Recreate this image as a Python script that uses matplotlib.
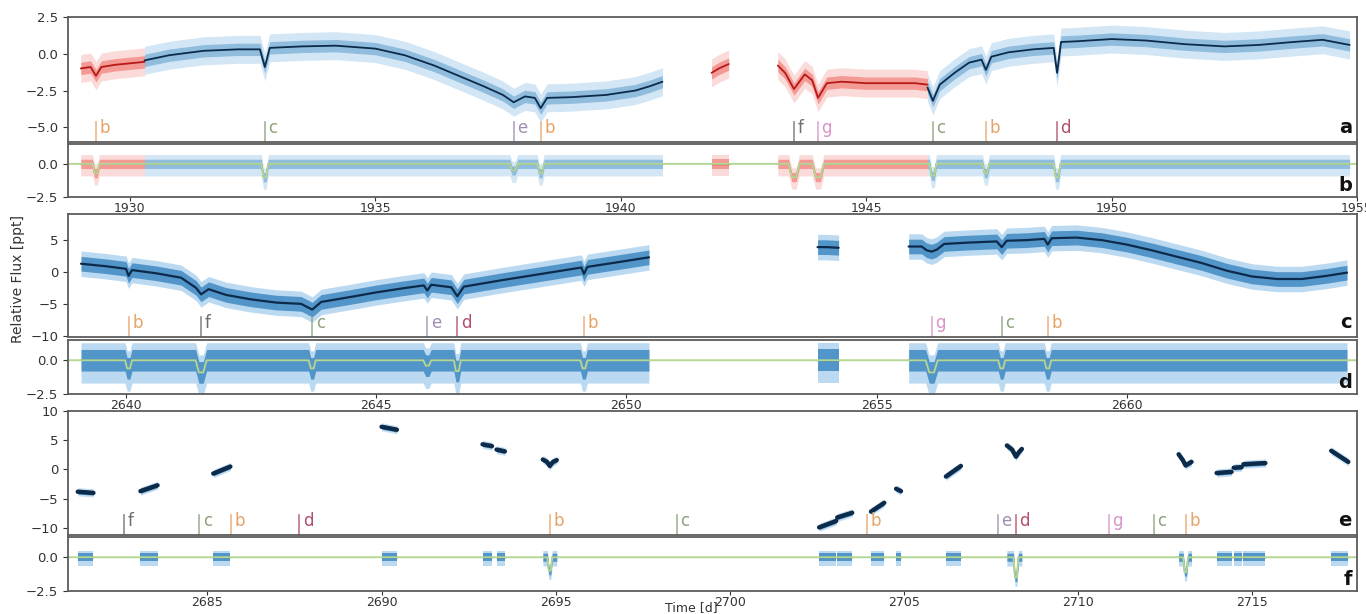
import matplotlib
matplotlib.use('Agg')
import matplotlib.pyplot as plt
import numpy as np

# ---- planets / transit markers ----
PLANETS = ['b', 'c', 'd', 'e', 'f', 'g']
PLANET_COLORS = ['#e6a469', '#8ba27c', '#b0506a', '#a08fb2', '#6f6f6f', '#d893c8']
PLANET_DUR = [0.14, 0.14, 0.14, 0.16, 0.22, 0.24]

# ---- sector 1 (panels a, b) ----
A_SEGS_T = [
    [1929.0, 1929.2, 1929.31, 1929.42, 1929.7, 1930.3],
    [1930.3, 1930.8, 1931.5, 1932.2, 1932.65, 1932.75, 1932.85, 1933.5, 1934.2,
     1935.0, 1935.6, 1936.2, 1936.7, 1937.2, 1937.6, 1937.82, 1938.05, 1938.25,
     1938.37, 1938.5, 1939.0, 1939.7, 1940.3, 1940.6, 1940.85],
    [1941.85, 1942.0, 1942.2],
    [1943.2, 1943.35, 1943.53, 1943.75, 1943.9, 1944.02, 1944.2, 1944.5, 1945.0,
     1945.5, 1946.0, 1946.25],
    [1946.25, 1946.36, 1946.5, 1946.8, 1947.1, 1947.35, 1947.44, 1947.55, 1947.9,
     1948.4, 1948.82, 1948.89, 1948.97, 1949.3, 1950.0, 1950.7, 1951.5, 1952.3,
     1953.0, 1953.7, 1954.3, 1954.85],
]
A_SEGS_F = [
    [-1.0, -0.9, -1.5, -0.9, -0.75, -0.55],
    [-0.45, -0.1, 0.2, 0.3, 0.3, -0.9, 0.4, 0.5, 0.55, 0.35, -0.1, -0.8, -1.5,
     -2.2, -2.8, -3.3, -2.9, -3.0, -3.7, -3.0, -2.95, -2.8, -2.5, -2.2, -1.9],
    [-1.3, -1.0, -0.7],
    [-0.8, -1.3, -2.4, -1.4, -1.8, -3.0, -2.0, -1.9, -2.0, -2.0, -2.0, -2.1],
    [-2.3, -3.2, -2.1, -1.3, -0.6, -0.4, -1.1, -0.2, 0.1, 0.3, 0.4, -1.3, 0.8,
     0.85, 1.0, 0.9, 0.65, 0.5, 0.6, 0.8, 0.95, 0.6],
]
A_SEGS_RED = [True, False, True, True, False]
AB_TR_T = [1929.31, 1932.75, 1937.82, 1938.37, 1943.53, 1944.02, 1946.36, 1947.44, 1948.89]
AB_TR_P = ['b', 'c', 'e', 'b', 'f', 'g', 'c', 'b', 'd']
AB_TR_DEPTH = [0.7, 1.0, 0.5, 0.7, 1.0, 1.0, 0.9, 0.7, 1.0]

# ---- sector 2 (panels c, d) ----
C_SEGS_T = [
    [2639.1, 2639.6, 2640.0, 2640.05, 2640.12, 2640.6, 2641.1, 2641.4, 2641.5,
     2641.65, 2642.0, 2642.5, 2643.0, 2643.5, 2643.72, 2643.9, 2644.5, 2645.0,
     2645.5, 2645.95, 2646.02, 2646.1, 2646.5, 2646.62, 2646.75, 2647.5, 2648.3,
     2649.1, 2649.15, 2649.22, 2649.8, 2650.45],
    [2653.82, 2654.0, 2654.24],
    [2655.64, 2655.9, 2656.0, 2656.1, 2656.2, 2656.35, 2656.8, 2657.4, 2657.5,
     2657.6, 2658.0, 2658.35, 2658.42, 2658.5, 2659.0, 2659.5, 2660.0, 2660.5,
     2661.0, 2661.5, 2662.0, 2662.5, 2663.0, 2663.5, 2664.0, 2664.4],
]
C_SEGS_F = [
    [1.3, 0.9, 0.5, -0.6, 0.3, -0.2, -0.9, -2.5, -3.5, -2.7, -3.6, -4.3, -4.8,
     -5.0, -5.9, -4.7, -3.9, -3.2, -2.6, -2.1, -2.9, -2.0, -2.4, -3.8, -2.3,
     -1.3, -0.3, 0.7, -0.3, 0.8, 1.5, 2.3],
    [3.9, 3.9, 3.8],
    [4.0, 4.0, 3.4, 3.2, 3.5, 4.4, 4.6, 4.8, 3.9, 4.9, 5.0, 5.2, 4.3, 5.3, 5.4,
     5.0, 4.3, 3.4, 2.4, 1.4, 0.2, -0.7, -1.1, -1.1, -0.6, -0.1],
]
CD_TR_T = [2640.05, 2641.5, 2643.72, 2646.02, 2646.62, 2649.15, 2656.1, 2657.5, 2658.42]
CD_TR_P = ['b', 'f', 'c', 'e', 'd', 'b', 'g', 'c', 'b']
CD_TR_DEPTH = [0.6, 0.9, 0.6, 0.4, 0.8, 0.6, 0.9, 0.6, 0.6]

# ---- sector 3 (panels e, f) ----
E_SEGS_T = [
    [2681.28, 2681.5, 2681.73], [2683.08, 2683.57], [2685.17, 2685.66],
    [2690.0, 2690.44], [2692.9, 2693.17], [2693.3, 2693.54],
    [2694.63, 2694.75, 2694.83, 2694.92, 2695.03], [2702.56, 2703.05],
    [2703.08, 2703.51], [2704.05, 2704.43], [2704.77, 2704.91],
    [2706.2, 2706.63], [2707.95, 2708.1, 2708.21, 2708.3, 2708.38],
    [2712.88, 2713.0, 2713.08, 2713.25], [2713.97, 2714.4], [2714.46, 2714.69],
    [2714.74, 2715.37], [2717.26, 2717.75],
]
E_SEGS_F = [
    [-3.8, -3.9, -4.0], [-3.7, -2.7], [-0.7, 0.5], [7.3, 6.8], [4.3, 4.0],
    [3.4, 3.1], [1.7, 1.3, 0.6, 1.3, 1.6], [-9.9, -8.8], [-8.2, -7.4],
    [-7.2, -5.7], [-3.3, -3.7], [-1.2, 0.6], [4.1, 3.4, 2.2, 3.0, 3.5],
    [2.6, 1.6, 0.7, 1.3], [-0.6, -0.4], [0.3, 0.4], [0.9, 1.1], [3.2, 1.3],
]
EF_TR_T = [2682.6, 2684.77, 2685.69, 2687.64, 2694.83, 2698.47, 2703.94,
           2707.69, 2708.21, 2710.87, 2712.16, 2713.08]
EF_TR_P = ['f', 'c', 'b', 'd', 'b', 'c', 'b', 'e', 'd', 'g', 'c', 'b']
EF_TR_DEPTH = [0, 0, 0, 0, 1.0, 0, 0, 0, 1.5, 0, 0, 1.1]

BLUE_LIGHT = '#8fc1e6'
BLUE_MID = '#2f7fbd'
BLUE_DARK = '#0c2a4a'
RED_LIGHT = '#f6a7a0'
RED_MID = '#e8392e'
RED_DARK = '#b81818'
MODEL_GREEN = '#b5d795'
SPINE = '#5c5c5c'
TEXT = '#333333'


def transit_model(times, planets, depths, lo, hi):
    # flat line with a trapezoid dip for every transit that has data
    pts = []
    for t, p, d in zip(times, planets, depths):
        if d == 0:
            continue
        w = PLANET_DUR[PLANETS.index(p)]
        pts += [(t - w / 2, 0.0), (t - w / 5, -d), (t + w / 5, -d), (t + w / 2, 0.0)]
    pts = [(lo, 0.0)] + sorted(pts) + [(hi, 0.0)]
    return np.array([p[0] for p in pts]), np.array([p[1] for p in pts])


def style_axes(ax, xlim, ylim, yticks, yfmt, show_x):
    ax.set_xlim(*xlim)
    ax.set_ylim(*ylim)
    ax.set_yticks(yticks)
    ax.set_yticklabels([yfmt.format(v).replace('-', '\u2212') for v in yticks])
    for s in ax.spines.values():
        s.set_color(SPINE)
        s.set_linewidth(1.3)
    ax.tick_params(labelsize=9.5, colors=TEXT, length=3.5, width=0.8)
    ax.tick_params(axis='x', length=3, pad=0.3, labelsize=9)
    if not show_x:
        ax.tick_params(axis='x', bottom=False, labelbottom=False)


def draw_flux(ax, segs_t, segs_f, reds, w_out, w_in, lw, a_out, a_in):
    for t, f, red in zip(segs_t, segs_f, reds):
        t = np.array(t)
        f = np.array(f)
        light, mid, dark = (RED_LIGHT, RED_MID, RED_DARK) if red else (BLUE_LIGHT, BLUE_MID, BLUE_DARK)
        ax.fill_between(t, f - w_out, f + w_out, color=light, alpha=a_out, lw=0)
        ax.fill_between(t, f - w_in, f + w_in, color=mid, alpha=a_in, lw=0)
        ax.plot(t, f, color=dark, lw=lw, solid_capstyle='round')


def draw_resid(ax, segs_t, reds, mx, my, w_out, w_in, a_out, a_in, xlim):
    for t, red in zip(segs_t, reds):
        t0, t1 = t[0], t[-1]
        grid = np.array(sorted(set([t0, t1] + [x for x in mx if t0 < x < t1])))
        r = np.interp(grid, mx, my)
        light, mid, dark = (RED_LIGHT, RED_MID, RED_DARK) if red else (BLUE_LIGHT, BLUE_MID, BLUE_DARK)
        ax.fill_between(grid, r - w_out * 1.3, r + w_out, color=light, alpha=a_out, lw=0)
        ax.fill_between(grid, r - w_in, r + w_in, color=mid, alpha=a_in, lw=0)
        ax.plot(grid, r, color=dark, lw=1.0, alpha=0.8)
    ax.plot(mx, my, color=MODEL_GREEN, lw=1.4)


def draw_markers(ax, times, planets):
    tr = ax.get_xaxis_transform()
    for t, p in zip(times, planets):
        c = PLANET_COLORS[PLANETS.index(p)]
        ax.plot([t, t], [0.0, 0.16], color=c, lw=1.2, transform=tr, alpha=0.8)
        ax.annotate(p, (t, 0.11), xycoords=tr, xytext=(2.5, 0), textcoords='offset points',
                    color=c, fontsize=12, va='center', ha='left')


def panel_label(ax, s):
    ax.text(0.996, 0.04, s, transform=ax.transAxes, ha='right', va='bottom',
            fontsize=14, fontweight='bold', color='#111111')


fig = plt.figure(figsize=(13.66, 6.14), dpi=100)
L, W = 68 / 1366, (1357 - 68) / 1366


def add_ax(top_px, bot_px):
    return fig.add_axes([L, 1 - bot_px / 614, W, (bot_px - top_px) / 614])


ax_a = add_ax(17, 142)
ax_b = add_ax(144, 197)
ax_c = add_ax(214, 337)
ax_d = add_ax(340, 394)
ax_e = add_ax(411, 535)
ax_f = add_ax(537, 591)

XL_AB = (1928.74, 1955.0)
XL_CD = (2638.84, 2664.6)
XL_EF = (2681.0, 2718.0)

# panel a / b
draw_flux(ax_a, A_SEGS_T, A_SEGS_F, A_SEGS_RED, 0.95, 0.42, 1.3, 0.4, 0.4)
draw_markers(ax_a, AB_TR_T, AB_TR_P)
style_axes(ax_a, XL_AB, (-6.0, 2.5), [-5.0, -2.5, 0.0, 2.5], '{:.1f}', False)
panel_label(ax_a, 'a')

mx, my = transit_model(AB_TR_T, AB_TR_P, AB_TR_DEPTH, *XL_AB)
draw_resid(ax_b, A_SEGS_T, A_SEGS_RED, mx, my, 0.7, 0.35, 0.4, 0.4, XL_AB)
style_axes(ax_b, XL_AB, (-2.5, 1.5), [-2.5, 0.0], '{:.1f}', True)
ax_b.set_xticks([1930, 1935, 1940, 1945, 1950, 1955])
panel_label(ax_b, 'b')

# panel c / d
draw_flux(ax_c, C_SEGS_T, C_SEGS_F, [False] * 3, 2.0, 1.15, 1.6, 0.6, 0.75)
draw_markers(ax_c, CD_TR_T, CD_TR_P)
style_axes(ax_c, XL_CD, (-10.2, 9.1), [-10, -5, 0, 5], '{:d}', False)
panel_label(ax_c, 'c')

mx, my = transit_model(CD_TR_T, CD_TR_P, CD_TR_DEPTH, *XL_CD)
draw_resid(ax_d, C_SEGS_T, [False] * 3, mx, my, 1.3, 0.8, 0.6, 0.75, XL_CD)
style_axes(ax_d, XL_CD, (-2.5, 1.5), [-2.5, 0.0], '{:.1f}', True)
ax_d.set_xticks([2640, 2645, 2650, 2655, 2660])
panel_label(ax_d, 'd')

# panel e / f
draw_flux(ax_e, E_SEGS_T, E_SEGS_F, [False] * len(E_SEGS_T), 0.7, 0.4, 3.2, 0.5, 0.7)
draw_markers(ax_e, EF_TR_T, EF_TR_P)
style_axes(ax_e, XL_EF, (-11.2, 10.0), [-10, -5, 0, 5, 10], '{:d}', False)
panel_label(ax_e, 'e')

mx, my = transit_model(EF_TR_T, EF_TR_P, EF_TR_DEPTH, *XL_EF)
draw_resid(ax_f, E_SEGS_T, [False] * len(E_SEGS_T), mx, my, 0.5, 0.3, 0.6, 0.75, XL_EF)
style_axes(ax_f, XL_EF, (-2.5, 1.5), [-2.5, 0.0], '{:.1f}', True)
ax_f.set_xticks([2685, 2690, 2695, 2700, 2705, 2710, 2715])
panel_label(ax_f, 'f')

fig.text(0.013, 0.545, 'Relative Flux [ppt]', rotation=90, ha='center', va='center',
         fontsize=10, color=TEXT)
fig.text(0.506, 0.0, 'Time [d]', ha='center', va='bottom', fontsize=9, color=TEXT)

fig.savefig('out.png', dpi=100)
